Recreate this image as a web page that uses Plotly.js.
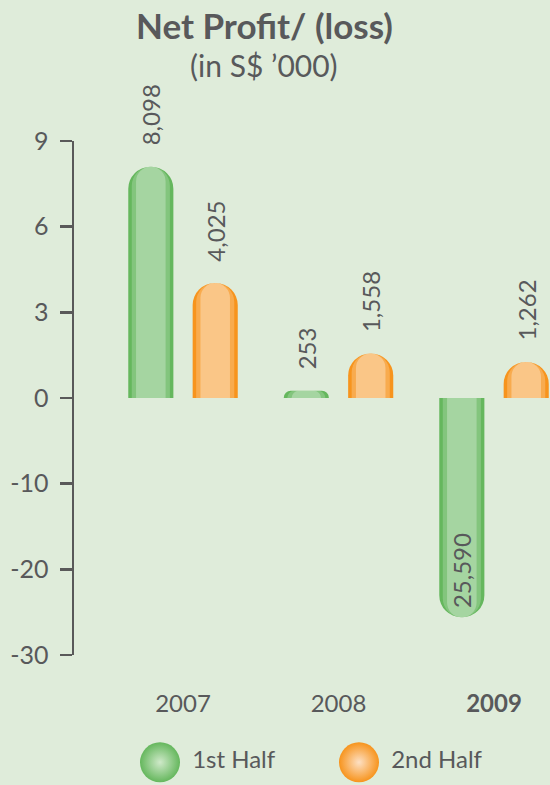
<!DOCTYPE html>
<html>
<head>
<meta charset="utf-8">
<script src="https://cdn.plot.ly/plotly-3.0.1.min.js"></script>
<style>html,body{margin:0;padding:0;background:#dfecda;}</style>
</head>
<body>
<div id="chart" style="width:550px;height:785px;"></div>
<script>
// Data (S$ '000)
const years = ['2007', '2008', '2009'];
const yearLabels = ['2007', '2008', '<b>2009</b>'];
const seriesNames = ['1st Half', '2nd Half'];
const firstHalf = [8098, 253, -25590];
const secondHalf = [4025, 1558, 1262];
// axis ticks (S$ million) – broken scale: 3 per step above 0, 10 per step below 0
const yTicks = [9, 6, 3, 0, -10, -20, -30];
const titleText = 'Net Profit/ (loss)';
const subtitleText = '(in S$ \u2019000)';

const TXT = '#58595b';
const FONT = 'Lato, "Open Sans", sans-serif';
const GREEN = '#65b75d';
const ORANGE = '#f7941d';

function t(vMillion) { return vMillion >= 0 ? vMillion / 3 : vMillion / 10; }
function tv(vThousand) { return t(vThousand / 1000); }
function fmt(v) { return Math.abs(v).toLocaleString('en-US'); }
function labels(arr) { return arr.map(v => v >= 0 ? '\u00A0\u00A0\u00A0' + fmt(v) : fmt(v)); }
function positions(arr) { return arr.map(v => v >= 0 ? 'outside' : 'inside'); }

const W = 0.29, C = 0.207;

function layer(vals, color, side, width, radius, withText) {
  const tr = {
    type: 'bar', x: years, y: vals.map(tv), width: width, offset: side * C - width / 2,
    marker: { color: color, cornerradius: radius }, hoverinfo: 'skip', showlegend: false, cliponaxis: false
  };
  if (withText) {
    Object.assign(tr, {
      text: labels(vals), textposition: positions(vals), textangle: -90,
      insidetextanchor: 'end', constraintext: 'none',
      textfont: { family: FONT, size: 24, color: TXT },
      outsidetextfont: { family: FONT, size: 24, color: TXT },
      insidetextfont: { family: FONT, size: 24, color: TXT }
    });
  }
  return tr;
}

const legendTrace = {
  type: 'scatter', mode: 'markers+text', xaxis: 'x2', yaxis: 'y2',
  x: [160, 359], y: [0, 0], text: seriesNames.map(s => '\u00A0' + s), textposition: 'middle right',
  textfont: { family: FONT, size: 24, color: TXT },
  marker: { size: 40, color: [GREEN, ORANGE], gradient: { type: 'radial', color: ['#cfe9c9', '#fde0c4'] } },
  hoverinfo: 'skip', showlegend: false, cliponaxis: false
};

const data = [
  layer(firstHalf, GREEN, -1, W, 22, false),
  layer(secondHalf, ORANGE, 1, W, 22, false),
  layer(firstHalf, 'rgba(255,255,255,0.2)', -1, 0.245, 19, false),
  layer(secondHalf, 'rgba(255,255,255,0.22)', 1, 0.245, 19, false),
  layer(firstHalf, 'rgba(255,255,255,0.28)', -1, 0.19, 15, false),
  layer(secondHalf, 'rgba(255,255,255,0.32)', 1, 0.19, 15, false),
  layer(firstHalf, 'rgba(0,0,0,0)', -1, W, 22, true),
  layer(secondHalf, 'rgba(0,0,0,0)', 1, W, 22, true),
  legendTrace
];

const layout = {
  width: 550, height: 785,
  paper_bgcolor: '#dfecda', plot_bgcolor: 'rgba(0,0,0,0)',
  margin: { l: 74, r: 0, t: 141, b: 10 },
  barmode: 'overlay',
  hovermode: false,
  font: { family: FONT, color: TXT },
  annotations: [
    { text: '<b>' + titleText + '</b>', xref: 'paper', yref: 'paper', x: (264 - 74) / 476, y: (775 - 25) / 634,
      xanchor: 'center', yanchor: 'middle', showarrow: false, font: { family: FONT, size: 35, color: TXT } },
    { text: subtitleText, xref: 'paper', yref: 'paper', x: (264 - 74) / 476, y: (775 - 65) / 634,
      xanchor: 'center', yanchor: 'middle', showarrow: false, font: { family: FONT, size: 30, color: TXT } }
  ],
  xaxis: {
    type: 'category', range: [-0.701, 2.360], showline: false, ticks: '', showgrid: false,
    zeroline: false, tickvals: years, ticktext: yearLabels,
    tickfont: { family: FONT, size: 24, color: TXT }, ticklabelstandoff: 32
  },
  yaxis: {
    domain: [0.1893, 1], range: [t(-30), t(9)],
    tickvals: yTicks.map(t), ticktext: yTicks.map(String),
    showline: true, linecolor: '#595959', linewidth: 2.5,
    ticks: 'outside', ticklen: 12, tickwidth: 2.5, tickcolor: '#595959',
    showgrid: false, zeroline: false, ticklabelstandoff: 6,
    tickfont: { family: FONT, size: 25, color: TXT }
  },
  xaxis2: { domain: [0, 1], range: [74, 550], visible: false, anchor: 'y2' },
  yaxis2: { domain: [0, 0.04], range: [-1, 1], visible: false, anchor: 'x2' }
};

Plotly.newPlot('chart', data, layout, { staticPlot: true, displayModeBar: false });
</script>
</body>
</html>
